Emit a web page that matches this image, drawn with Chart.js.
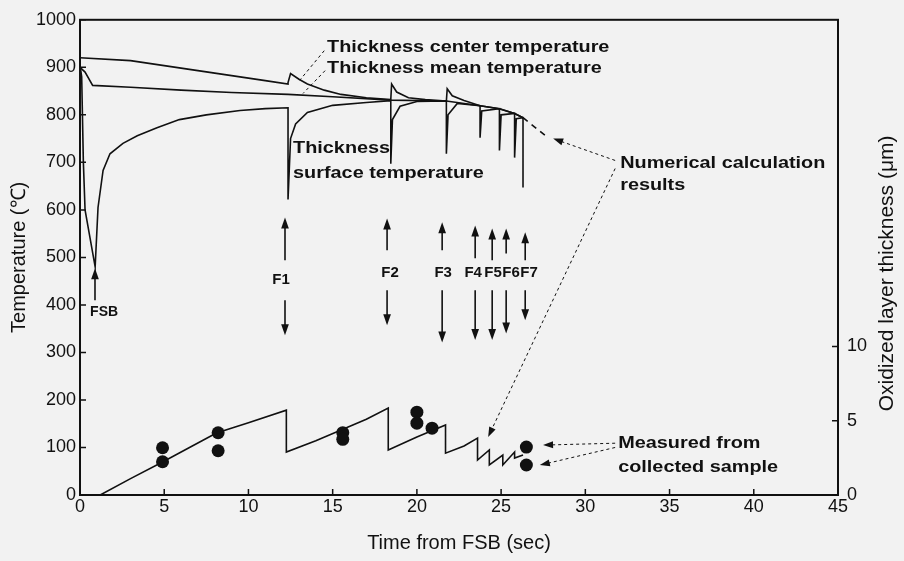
<!DOCTYPE html>
<html>
<head>
<meta charset="utf-8">
<script src="https://cdn.jsdelivr.net/npm/chart.js@4.4.0/dist/chart.umd.min.js"></script>
<style>
  html, body { margin: 0; padding: 0; background: #f2f2f2; }
</style>
</head>
<body>
<canvas id="tempChart" width="904" height="561"></canvas>
<script>
// temperatures (°C) vs time from FSB (sec)
const centerTime = [0, 3, 7, 11, 12.35, 12.35, 12.5, 13.0, 13.5, 14.5, 15.5, 17, 18.45, 18.5, 18.8, 19.5, 20.5, 21.75, 21.8, 22.1, 22.8, 23.75, 24.9, 25.8, 26.3];
const centerTemp = [920, 914, 893, 872, 865, 868, 887, 875, 865, 852, 843, 836, 832, 865, 848, 836, 832, 829, 855, 840, 830, 819, 813, 803, 794];

const meanTime = [0, 0.3, 0.75, 3, 6, 9, 12.35, 15, 18.45, 21.75, 23.75, 24.9, 25.8, 26.3];
const meanTemp = [900, 890, 862, 858, 852, 847, 843, 838, 831, 829, 819, 813, 803, 794];

const tailTime = [26.3, 27.6];
const tailTemp = [794, 757];

const surfTime = [0, 0.1, 0.2, 0.3, 0.6, 0.9, 1.07, 1.37, 1.78, 2.55, 3.4, 4.57, 5.9, 7.5, 9.5, 11, 12.35, 12.35, 12.5, 12.8, 13.5, 15, 17, 18.45, 18.45, 18.55, 19.0, 20.0, 21.75, 21.75, 21.85, 22.4, 23.75, 23.75, 23.85, 24.9, 24.9, 25.0, 25.8, 25.8, 25.9, 26.3, 26.3];
const surfTemp = [905, 880, 700, 600, 540, 480, 605, 683, 718, 740, 756, 773, 790, 800, 809, 813, 815, 622, 750, 781, 805, 820, 826, 830, 697, 790, 818, 828, 829, 718, 800, 824, 819, 752, 808, 813, 725, 800, 803, 710, 792, 794, 647];

// oxidized layer thickness (µm)
const oxideTime = [1.2, 3.0, 4.9, 6.5, 8.1, 10.0, 12.25, 12.25, 14.0, 15.5, 17.0, 18.3, 18.3, 20.0, 21.7, 21.7, 22.8, 23.6, 23.6, 24.3, 24.3, 25.1, 25.1, 25.8, 25.8, 26.3];
const oxideUm = [0, 1.1, 2.22, 3.2, 4.17, 4.86, 5.71, 2.89, 3.65, 4.37, 5.1, 5.85, 3.03, 3.9, 4.71, 2.82, 3.3, 3.83, 2.35, 3.03, 2.02, 2.69, 2.02, 2.89, 2.49, 2.69];

const sampleTime = [4.9, 4.9, 8.2, 8.2, 15.6, 15.6, 20.0, 20.0, 20.9, 26.5, 26.5];
const sampleUm = [3.18, 2.24, 4.19, 2.98, 4.2, 3.75, 5.58, 4.84, 4.5, 3.23, 2.02];

const tempTicks = [0, 100, 200, 300, 400, 500, 600, 700, 800, 900, 1000];
const timeTicks = [0, 5, 10, 15, 20, 25, 30, 35, 40, 45];
const oxideTicks = [0, 5, 10];

// stands: name, arrow time, label time
const stands = ['F1', 'F2', 'F3', 'F4', 'F5', 'F6', 'F7'];
const standTime = [12.17, 18.23, 21.5, 23.46, 24.47, 25.3, 26.43];
const standLabelTime = [11.94, 18.41, 21.56, 23.34, 24.52, 25.59, 26.66];

const pts = (xs, ys) => xs.map((x, i) => ({x: x, y: ys[i]}));
const INK = '#111';
const FONT = '"Liberation Sans", Arial, sans-serif';

function arrow(ctx, x1, y1, x2, y2, head) {
  const a = Math.atan2(y2 - y1, x2 - x1);
  ctx.beginPath();
  ctx.moveTo(x1, y1);
  ctx.lineTo(x2 - Math.cos(a) * head * 0.6, y2 - Math.sin(a) * head * 0.6);
  ctx.stroke();
  ctx.beginPath();
  ctx.moveTo(x2, y2);
  ctx.lineTo(x2 - head * Math.cos(a) + head * 0.35 * Math.sin(a), y2 - head * Math.sin(a) - head * 0.35 * Math.cos(a));
  ctx.lineTo(x2 - head * Math.cos(a) - head * 0.35 * Math.sin(a), y2 - head * Math.sin(a) + head * 0.35 * Math.cos(a));
  ctx.closePath();
  ctx.fill();
}

function wideText(ctx, str, x, y, sx) {
  ctx.save();
  ctx.translate(x, y);
  ctx.scale(sx, 1);
  ctx.fillText(str, 0, 0);
  ctx.restore();
}

const paperPlugin = {
  id: 'paper',
  beforeDraw(chart) {
    const ctx = chart.ctx;
    ctx.save();
    ctx.fillStyle = '#f2f2f2';
    ctx.fillRect(0, 0, chart.width, chart.height);
    ctx.restore();
  },
  afterDraw(chart) {
    const ctx = chart.ctx;
    const {left, right, top, bottom} = chart.chartArea;
    const xs = chart.scales.x, ys = chart.scales.y, y2 = chart.scales.y2;
    const X = v => xs.getPixelForValue(v);
    const Y = v => ys.getPixelForValue(v);
    ctx.save();
    ctx.strokeStyle = INK;
    ctx.fillStyle = INK;

    // frame
    ctx.lineWidth = 2;
    ctx.strokeRect(left, top, right - left, bottom - top);

    // inward ticks
    ctx.lineWidth = 1.5;
    ctx.beginPath();
    tempTicks.forEach(v => { ctx.moveTo(left, Y(v)); ctx.lineTo(left + 6, Y(v)); });
    timeTicks.forEach(v => { ctx.moveTo(X(v), bottom); ctx.lineTo(X(v), bottom - 6); });
    oxideTicks.forEach(v => { ctx.moveTo(right, y2.getPixelForValue(v)); ctx.lineTo(right - 6, y2.getPixelForValue(v)); });
    ctx.stroke();

    // stand arrows
    ctx.lineWidth = 1.6;
    const upHead = [584, 582, 574, 567, 561, 561, 553];
    const upTail = [494, 515, 515, 498, 494, 508, 494];
    const downHead = [336, 357, 321, 326, 326, 340, 368];
    stands.forEach((s, i) => {
      arrow(ctx, X(standTime[i]), Y(upTail[i]), X(standTime[i]), Y(upHead[i]), 11);
      arrow(ctx, X(standTime[i]), Y(i === 0 ? 410 : 431), X(standTime[i]), Y(downHead[i]), 11);
    });
    arrow(ctx, X(0.89), Y(410), X(0.89), Y(477), 11);

    ctx.font = 'bold 15px ' + FONT;
    ctx.textAlign = 'center';
    ctx.textBaseline = 'middle';
    stands.forEach((s, i) => {
      ctx.fillText(s, X(standLabelTime[i]), Y(i === 0 ? 452 : 468));
    });
    ctx.textAlign = 'left';
    ctx.font = 'bold 14px ' + FONT;
    ctx.fillText('FSB', X(0.6), Y(384));

    // annotation texts
    ctx.font = 'bold 16px ' + FONT;
    wideText(ctx, 'Thickness center temperature', X(14.67), Y(941), 1.24);
    wideText(ctx, 'Thickness mean temperature', X(14.67), Y(897), 1.24);
    wideText(ctx, 'Thickness', X(12.65), Y(729), 1.24);
    wideText(ctx, 'surface temperature', X(12.65), Y(676), 1.24);
    wideText(ctx, 'Numerical calculation', X(32.07), Y(697), 1.24);
    wideText(ctx, 'results', X(32.07), Y(651), 1.24);
    wideText(ctx, 'Measured from', X(31.95), Y(109), 1.24);
    wideText(ctx, 'collected sample', X(31.95), Y(57), 1.24);

    // leader lines
    ctx.lineWidth = 1;
    ctx.setLineDash([3, 3]);
    ctx.beginPath();
    ctx.moveTo(X(14.5), Y(935)); ctx.lineTo(X(13.05), Y(873));
    ctx.moveTo(X(14.55), Y(893)); ctx.lineTo(X(13.24), Y(845));
    ctx.stroke();
    arrow(ctx, X(31.77), Y(704), X(28.09), Y(750), 10);
    arrow(ctx, X(31.77), Y(687), X(24.23), Y(122), 10);
    arrow(ctx, X(31.77), Y(109), X(27.49), Y(105), 10);
    arrow(ctx, X(31.77), Y(100), X(27.3), Y(63), 10);
    ctx.setLineDash([]);

    // right axis title
    ctx.font = '21px ' + FONT;
    ctx.textAlign = 'center';
    ctx.translate(887, (top + bottom) / 2 + 16);
    ctx.rotate(-Math.PI / 2);
    ctx.fillText('Oxidized layer thickness (μm)', 0, 0);
    ctx.restore();
  }
};

const lineStyle = {
  borderColor: INK,
  borderWidth: 1.6,
  pointRadius: 0,
  tension: 0,
  fill: false
};

new Chart(document.getElementById('tempChart'), {
  type: 'line',
  data: {
    datasets: [
      Object.assign({label: 'Thickness center temperature', data: pts(centerTime, centerTemp)}, lineStyle),
      Object.assign({label: 'Thickness mean temperature', data: pts(meanTime, meanTemp)}, lineStyle),
      Object.assign({label: 'Thickness surface temperature', data: pts(surfTime, surfTemp)}, lineStyle),
      Object.assign({label: 'Calculation tail', data: pts(tailTime, tailTemp), borderDash: [6, 5]}, lineStyle),
      Object.assign({label: 'Oxidized layer (calc.)', data: pts(oxideTime, oxideUm), yAxisID: 'y2'}, lineStyle),
      {
        type: 'scatter',
        label: 'Measured from collected sample',
        data: pts(sampleTime, sampleUm),
        yAxisID: 'y2',
        pointRadius: 6.5,
        pointBackgroundColor: INK,
        pointBorderColor: INK,
        pointBorderWidth: 0
      }
    ]
  },
  plugins: [paperPlugin],
  options: {
    responsive: false,
    animation: false,
    events: [],
    layout: { padding: { top: 19, left: 0, right: 0, bottom: 0 } },
    plugins: { legend: { display: false }, tooltip: { enabled: false } },
    scales: {
      x: {
        type: 'linear',
        min: 0,
        max: 45,
        afterBuildTicks: s => { s.ticks = timeTicks.map(v => ({value: v})); },
        afterFit: s => { s.height = 66; },
        grid: { display: false, drawTicks: false },
        border: { display: false },
        ticks: { color: INK, padding: 1, maxRotation: 0, callback: v => String(v), font: { family: FONT, size: 18 } },
        title: {
          display: true,
          text: 'Time from FSB (sec)',
          color: INK,
          padding: { top: 6, bottom: 6 },
          font: { family: FONT, size: 20 }
        }
      },
      y: {
        min: 0,
        max: 1000,
        afterBuildTicks: s => { s.ticks = tempTicks.map(v => ({value: v})); },
        afterFit: s => { s.width = 80; },
        grid: { display: false, drawTicks: false },
        border: { display: false },
        ticks: { color: INK, padding: 4, callback: v => String(v), font: { family: FONT, size: 18 } },
        title: {
          display: true,
          text: 'Temperature (℃)',
          color: INK,
          padding: { top: 7, bottom: 7 },
          font: { family: FONT, size: 20 }
        }
      },
      y2: {
        position: 'right',
        min: 0,
        max: 32,
        afterBuildTicks: s => { s.ticks = oxideTicks.map(v => ({value: v})); },
        afterFit: s => { s.width = 66; },
        grid: { display: false, drawTicks: false },
        border: { display: false },
        ticks: { color: INK, padding: 9, callback: v => String(v), font: { family: FONT, size: 18 } }
      }
    }
  }
});
</script>
</body>
</html>
